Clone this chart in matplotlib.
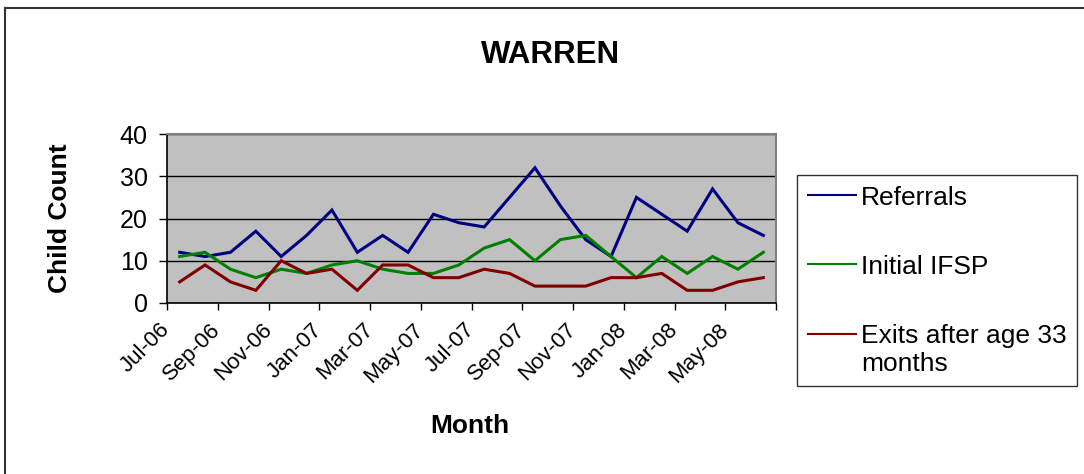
import matplotlib
matplotlib.use("Agg")
import matplotlib.pyplot as plt
from matplotlib.lines import Line2D
from matplotlib.legend_handler import HandlerLine2D

plt.rcParams['font.family'] = ['Liberation Sans', 'DejaVu Sans']

months = ["Jul-06", "Aug-06", "Sep-06", "Oct-06", "Nov-06", "Dec-06",
          "Jan-07", "Feb-07", "Mar-07", "Apr-07", "May-07", "Jun-07",
          "Jul-07", "Aug-07", "Sep-07", "Oct-07", "Nov-07", "Dec-07",
          "Jan-08", "Feb-08", "Mar-08", "Apr-08", "May-08", "Jun-08"]
referrals = [12, 11, 12, 17, 11, 16, 22, 12, 16, 12, 21, 19,
             18, 25, 32, 23, 15, 11, 25, 21, 17, 27, 19, 16]
initial_ifsp = [11, 12, 8, 6, 8, 7, 9, 10, 8, 7, 7, 9,
                13, 15, 10, 15, 16, 11, 6, 11, 7, 11, 8, 12]
exits = [5, 9, 5, 3, 10, 7, 8, 3, 9, 9, 6, 6,
         8, 7, 4, 4, 4, 6, 6, 7, 3, 3, 5, 6]
series_names = ["Referrals", "Initial IFSP", "Exits after age 33\nmonths"]
series_colors = ["#000080", "#008000", "#800000"]


class FirstLineHandler(HandlerLine2D):
    """Align the legend line with the first line of a two-line label."""
    def create_artists(self, legend, orig_handle, xdescent, ydescent,
                       width, height, fontsize, trans):
        arts = super().create_artists(legend, orig_handle, xdescent, ydescent,
                                      width, height, fontsize, trans)
        for a in arts:
            if isinstance(a, Line2D):
                a.set_ydata([y + 0.6 * fontsize for y in a.get_ydata()])
        return arts


W, H = 1084, 474
fig = plt.figure(figsize=(W / 100, H / 100), dpi=100)
fig.patch.set_facecolor("white")

# outer chart border (top and left visible)
fig.add_artist(Line2D([5 / W, 5 / W], [0, 1 - 8 / H], transform=fig.transFigure,
                      color="#333333", lw=1.5))
fig.add_artist(Line2D([5 / W, 1], [1 - 8 / H, 1 - 8 / H], transform=fig.transFigure,
                      color="#333333", lw=1.5))

ax = fig.add_axes([167 / W, 1 - 303 / H, (776 - 167) / W, (303 - 134) / H])
ax.set_facecolor("#C0C0C0")

x = list(range(len(months)))
lines = []
for vals, name, col in zip([referrals, initial_ifsp, exits], series_names, series_colors):
    ln, = ax.plot(x, vals, color=col, lw=2.2, label=name, solid_joinstyle="miter")
    lines.append(ln)

ax.set_xlim(-0.5, len(months) - 0.5)
ax.set_ylim(0, 40)
ax.set_yticks([0, 10, 20, 30, 40])
ax.yaxis.grid(True, color="black", lw=1)
ax.set_axisbelow(True)
ax.tick_params(axis="y", labelsize=18, length=6, width=1, direction="out", pad=8)

# tick marks between categories, a label every two months
xt = [i - 0.5 for i in range(0, len(months) + 1, 2)]
ax.set_xticks(xt)
ax.set_xticklabels(months[::2] + [""], rotation=45, ha="right", va="center",
                   rotation_mode="anchor", fontsize=16)
ax.tick_params(axis="x", length=5, width=1, direction="out", pad=12)

for side in ["top", "right"]:
    ax.spines[side].set_color("#808080")
    ax.spines[side].set_linewidth(1.5)
for side in ["left", "bottom"]:
    ax.spines[side].set_color("black")
    ax.spines[side].set_linewidth(1.2)

fig.text(551 / W, 1 - 55 / H, "WARREN", ha="center", va="center",
         fontsize=22.5, fontweight="bold")
fig.text(60 / W, 1 - 218 / H, "Child Count", ha="center", va="center",
         rotation=90, fontsize=19, fontweight="bold")
fig.text(470 / W, 1 - 426 / H, "Month", ha="center", va="center",
         fontsize=19, fontweight="bold")

leg = fig.legend(handles=lines, labels=series_names,
                 loc="upper left", bbox_to_anchor=(797 / W, 1 - 175 / H),
                 fontsize=19, frameon=True, fancybox=False, shadow=False,
                 handlelength=1.82, handletextpad=0.2, labelspacing=1.71,
                 borderpad=0.4, borderaxespad=0,
                 handler_map={lines[2]: FirstLineHandler()})
leg.get_frame().set_edgecolor("black")
leg.get_frame().set_linewidth(1)
for h in leg.legend_handles:
    h.set_linewidth(1.5)

fig.savefig("out.png", dpi=100)
